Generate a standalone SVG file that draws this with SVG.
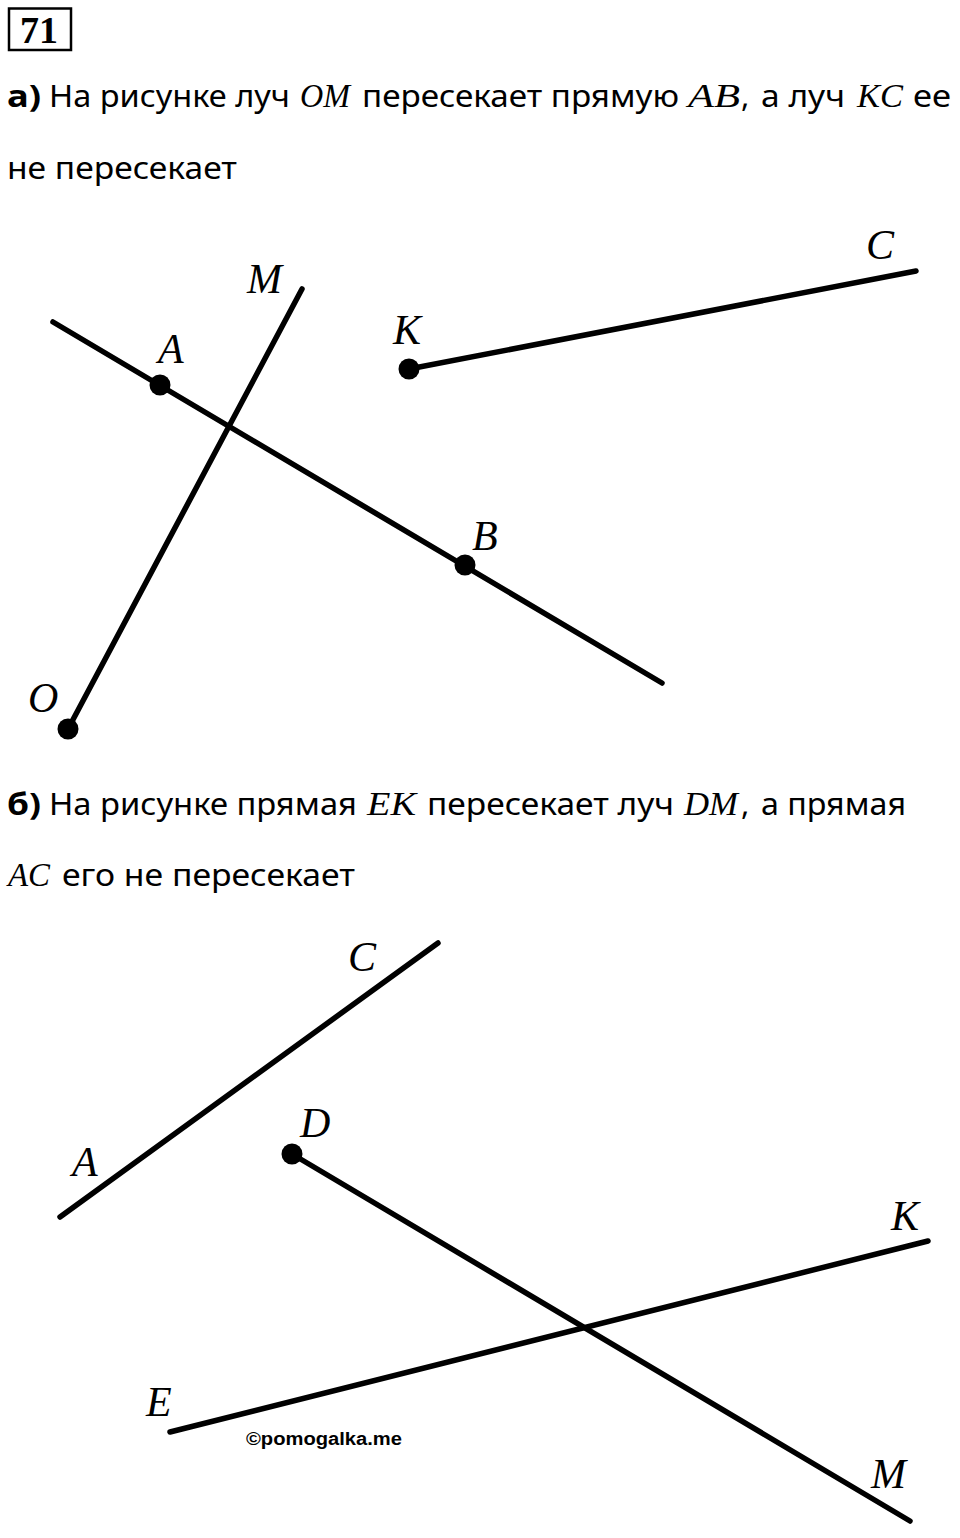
<svg xmlns="http://www.w3.org/2000/svg" width="960" height="1538" viewBox="0 0 960 1538">
<style>
.t{font-family:"Noto Sans","Open Sans",sans-serif;font-size:31px;fill:#000}
.b{font-weight:bold}
.m{font-family:"Liberation Serif",serif;font-style:italic;font-size:34px;fill:#000}
.lbl{font-family:"Liberation Serif",serif;font-style:italic;font-size:42px;fill:#000}
.ln{stroke:#000;stroke-width:5.5;stroke-linecap:round;fill:none}
.dot{fill:#000}
.wm{font-family:"Liberation Sans",Arial,sans-serif;font-weight:bold;font-size:18px;fill:#000}
</style>
<rect width="960" height="1538" fill="#fff"/>

<g id="number">
<rect x="9" y="8.5" width="62" height="41.5" fill="none" stroke="#000" stroke-width="2.5"/>
<text x="20" y="43" font-family="Liberation Serif,serif" font-weight="bold" font-size="38">71</text>
</g>

<g id="text-a">
<text class="t b" x="7" y="107" textLength="34" lengthAdjust="spacingAndGlyphs">а)</text>
<text class="t" x="49" y="107" textLength="241" lengthAdjust="spacingAndGlyphs">На рисунке луч</text>
<text class="m" x="300" y="107" textLength="50" lengthAdjust="spacingAndGlyphs">OM</text>
<text class="t" x="362" y="107" textLength="317" lengthAdjust="spacingAndGlyphs">пересекает прямую</text>
<text class="m" x="688" y="107" textLength="52" lengthAdjust="spacingAndGlyphs">AB</text>
<text class="t" x="741" y="107">,</text>
<text class="t" x="761" y="107" textLength="84" lengthAdjust="spacingAndGlyphs">а луч</text>
<text class="m" x="857" y="107" textLength="46" lengthAdjust="spacingAndGlyphs">KC</text>
<text class="t" x="913" y="107" textLength="38" lengthAdjust="spacingAndGlyphs">ее</text>
<text class="t" x="7" y="179" textLength="230" lengthAdjust="spacingAndGlyphs">не пересекает</text>
</g>

<g id="text-b">
<text class="t b" x="7" y="815" textLength="34" lengthAdjust="spacingAndGlyphs">б)</text>
<text class="t" x="49" y="815" textLength="308" lengthAdjust="spacingAndGlyphs">На рисунке прямая</text>
<text class="m" x="367" y="815" textLength="49" lengthAdjust="spacingAndGlyphs">EK</text>
<text class="t" x="427" y="815" textLength="247" lengthAdjust="spacingAndGlyphs">пересекает луч</text>
<text class="m" x="684" y="815" textLength="54" lengthAdjust="spacingAndGlyphs">DM</text>
<text class="t" x="741" y="815">,</text>
<text class="t" x="761" y="815" textLength="145" lengthAdjust="spacingAndGlyphs">а прямая</text>
<text class="m" x="8" y="886" textLength="42" lengthAdjust="spacingAndGlyphs">AC</text>
<text class="t" x="62" y="886" textLength="293" lengthAdjust="spacingAndGlyphs">его не пересекает</text>
</g>

<g id="connectors">
<line id="a-line-AB" class="ln" x1="53" y1="322" x2="662" y2="683"/>
<line id="a-ray-OM" class="ln" x1="68" y1="729" x2="302" y2="289"/>
<line id="a-ray-KC" class="ln" x1="409" y1="369" x2="916" y2="271"/>
<line id="b-line-AC" class="ln" x1="60" y1="1217" x2="438" y2="943"/>
<line id="b-ray-DM" class="ln" x1="292" y1="1154" x2="910" y2="1521"/>
<line id="b-line-EK" class="ln" x1="170" y1="1432" x2="928" y2="1241"/>
</g>

<g id="a-M"><text class="lbl" x="247" y="293">M</text></g>
<g id="a-A"><circle class="dot" cx="160" cy="385" r="10.5"/><text class="lbl" x="158" y="363">A</text></g>
<g id="a-B"><circle class="dot" cx="465" cy="565" r="10.5"/><text class="lbl" x="472" y="550">B</text></g>
<g id="a-O"><circle class="dot" cx="68" cy="729" r="10.5"/><text class="lbl" x="28" y="712">O</text></g>
<g id="a-K"><circle class="dot" cx="409" cy="369" r="10.5"/><text class="lbl" x="393" y="344">K</text></g>
<g id="a-C"><text class="lbl" x="866" y="259">C</text></g>

<g id="b-C"><text class="lbl" x="348" y="971">C</text></g>
<g id="b-A"><text class="lbl" x="72" y="1176">A</text></g>
<g id="b-D"><circle class="dot" cx="292" cy="1154" r="10.5"/><text class="lbl" x="300" y="1137">D</text></g>
<g id="b-K"><text class="lbl" x="891" y="1230">K</text></g>
<g id="b-M"><text class="lbl" x="871" y="1488">M</text></g>
<g id="b-E"><text class="lbl" x="146" y="1416">E</text></g>

<text class="wm" x="246" y="1445" textLength="156" lengthAdjust="spacingAndGlyphs">©pomogalka.me</text>
</svg>
